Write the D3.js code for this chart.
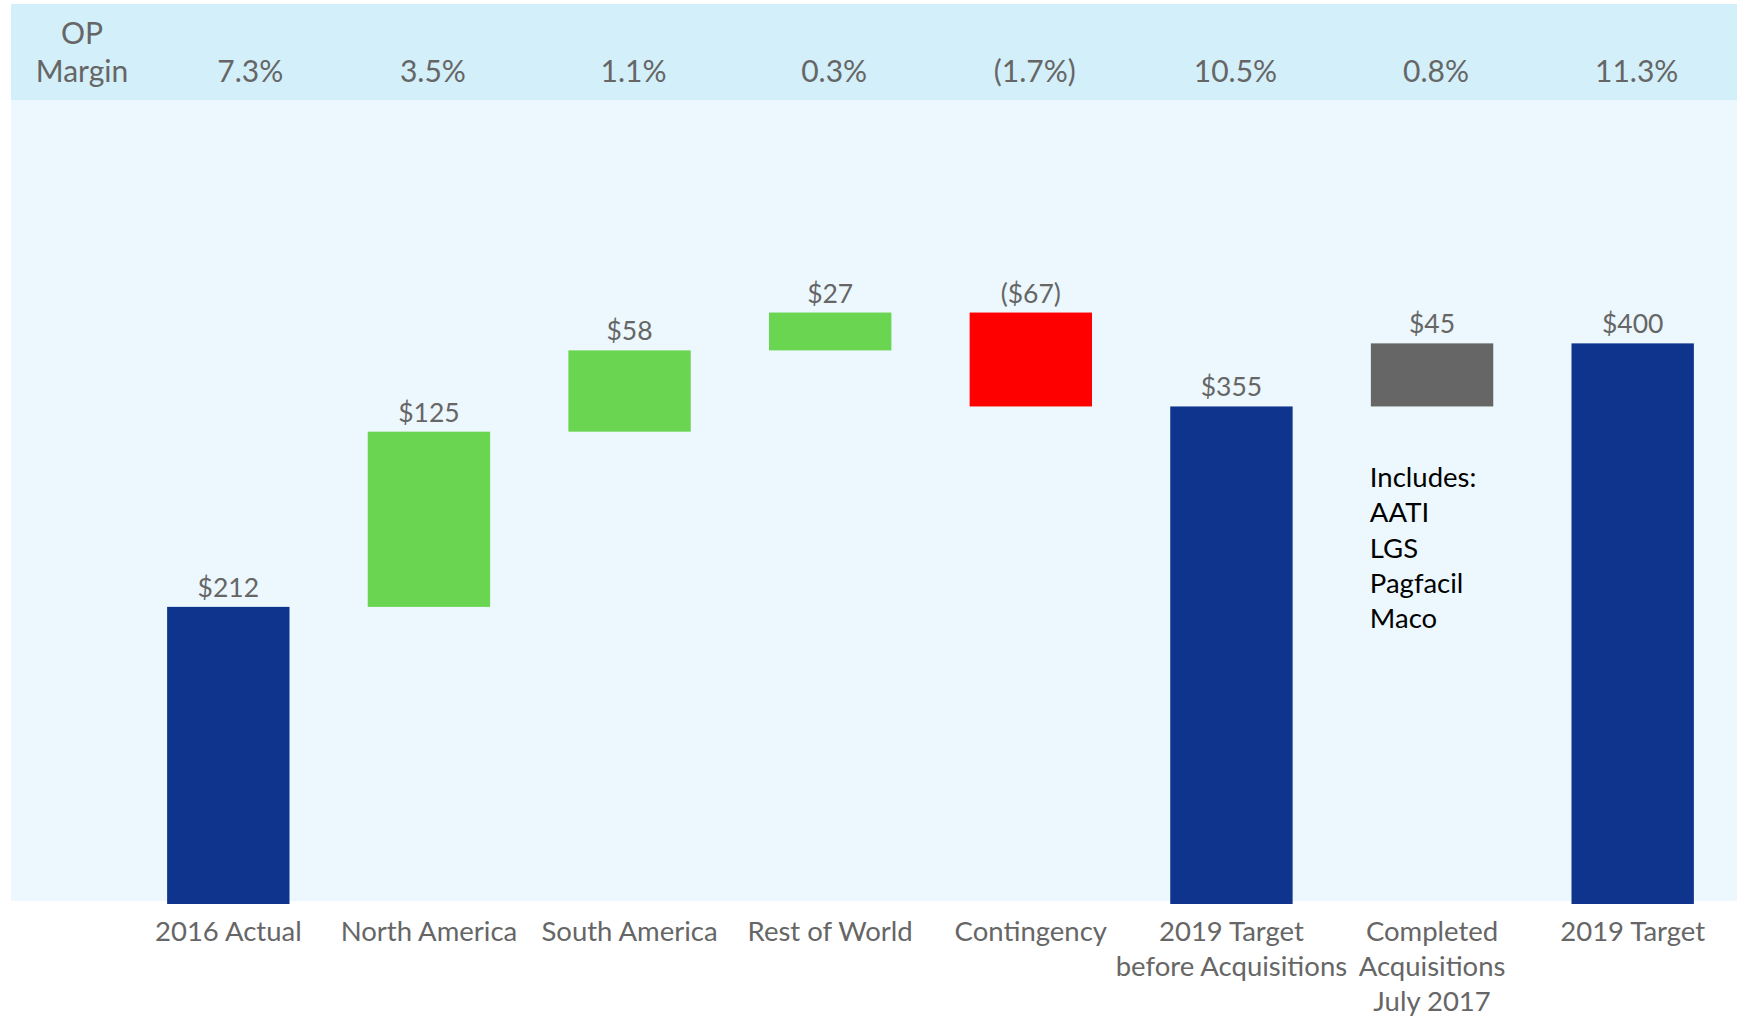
<!DOCTYPE html>
<html>
<head>
<meta charset="utf-8">
<script src="https://cdn.jsdelivr.net/npm/d3@7"></script>
<style>
  html, body { margin: 0; padding: 0; background: #ffffff; }
  svg { display: block; font-family: Lato, "Open Sans", sans-serif; }
</style>
</head>
<body>
<div id="chart"></div>
<script>
const categories = [
  ['2016 Actual'],
  ['North America'],
  ['South America'],
  ['Rest of World'],
  ['Contingency'],
  ['2019 Target', 'before Acquisitions'],
  ['Completed', 'Acquisitions', 'July 2017'],
  ['2019 Target']
];
// step values; 'total' bars start from zero
const values = [212, 125, 58, 27, -67, 355, 45, 400];
const kinds = ['total', 'up', 'up', 'up', 'down', 'total', 'acq', 'total'];
const valueLabels = ['$212', '$125', '$58', '$27', '($67)', '$355', '$45', '$400'];
const marginLabels = ['7.3%', '3.5%', '1.1%', '0.3%', '(1.7%)', '10.5%', '0.8%', '11.3%'];
const includesNote = ['Includes:', 'AATI', 'LGS', 'Pagfacil', 'Maco'];

const colors = { total: '#0e348d', up: '#69d551', down: '#ff0000', acq: '#666666' };

const width = 1739;
const height = 1016;

const svg = d3.select('#chart')
  .append('svg')
  .attr('width', width)
  .attr('height', height);

// header band and plot background
svg.append('rect')
  .attr('x', 11).attr('y', 4)
  .attr('width', 1726).attr('height', 96)
  .attr('fill', '#d3eff9');

svg.append('rect')
  .attr('x', 11).attr('y', 100)
  .attr('width', 1726).attr('height', 801)
  .attr('fill', '#ecf8fd');

const x = d3.scaleBand()
  .domain(categories.map((c) => c.join(' ')))
  .range([128, 1733])
  .paddingInner(0.39)
  .paddingOuter(0.195);

const y = d3.scaleLinear()
  .domain([0, 645])
  .range([904, 0]);

// running totals for the waterfall
let running = 0;
const rows = categories.map((c, i) => {
  let start;
  let end;
  if (kinds[i] === 'total') {
    start = 0;
    end = values[i];
  } else {
    start = running;
    end = running + values[i];
  }
  running = end;
  return { key: c.join(' '), start, end, kind: kinds[i], label: valueLabels[i] };
});

svg.selectAll('.bar')
  .data(rows)
  .enter()
  .append('rect')
  .attr('class', 'bar')
  .attr('x', (d) => x(d.key))
  .attr('width', x.bandwidth())
  .attr('y', (d) => y(Math.max(d.start, d.end)))
  .attr('height', (d) => Math.abs(y(d.start) - y(d.end)))
  .attr('fill', (d) => colors[d.kind]);

svg.selectAll('.value-label')
  .data(rows)
  .enter()
  .append('text')
  .attr('class', 'value-label')
  .attr('x', (d) => x(d.key) + x.bandwidth() / 2)
  .attr('y', (d) => y(Math.max(d.start, d.end)) - 10)
  .attr('text-anchor', 'middle')
  .attr('font-size', 26.5)
  .attr('fill', '#666666')
  .text((d) => d.label);

// category labels (multi-line)
const catGroups = svg.selectAll('.cat-label')
  .data(categories)
  .enter()
  .append('text')
  .attr('class', 'cat-label')
  .attr('text-anchor', 'middle')
  .attr('font-size', 27.5)
  .attr('fill', '#666666');

catGroups.each(function (lines) {
  const cx = x(lines.join(' ')) + x.bandwidth() / 2;
  d3.select(this).selectAll('tspan')
    .data(lines)
    .enter()
    .append('tspan')
    .attr('x', cx)
    .attr('y', (d, i) => 941 + i * 35)
    .text((d) => d);
});

// OP margin header
svg.append('text')
  .attr('x', 82).attr('y', 44)
  .attr('text-anchor', 'middle')
  .attr('font-size', 30)
  .attr('fill', '#666666')
  .text('OP');

svg.append('text')
  .attr('x', 82).attr('y', 82)
  .attr('text-anchor', 'middle')
  .attr('font-size', 30)
  .attr('fill', '#666666')
  .text('Margin');

svg.selectAll('.margin-label')
  .data(marginLabels)
  .enter()
  .append('text')
  .attr('class', 'margin-label')
  .attr('x', (d, i) => x(categories[i].join(' ')) + x.bandwidth() / 2 + (i === 0 ? 22 : 4))
  .attr('y', 82)
  .attr('text-anchor', 'middle')
  .attr('font-size', 30)
  .attr('fill', '#666666')
  .text((d) => d);

// note under the acquisitions bar
const noteX = x(categories[6].join(' '));
svg.append('text')
  .attr('font-size', 27.5)
  .attr('fill', '#000000')
  .selectAll('tspan')
  .data(includesNote)
  .enter()
  .append('tspan')
  .attr('x', noteX - 1)
  .attr('y', (d, i) => 487 + i * 35.3)
  .text((d) => d);
</script>
</body>
</html>
